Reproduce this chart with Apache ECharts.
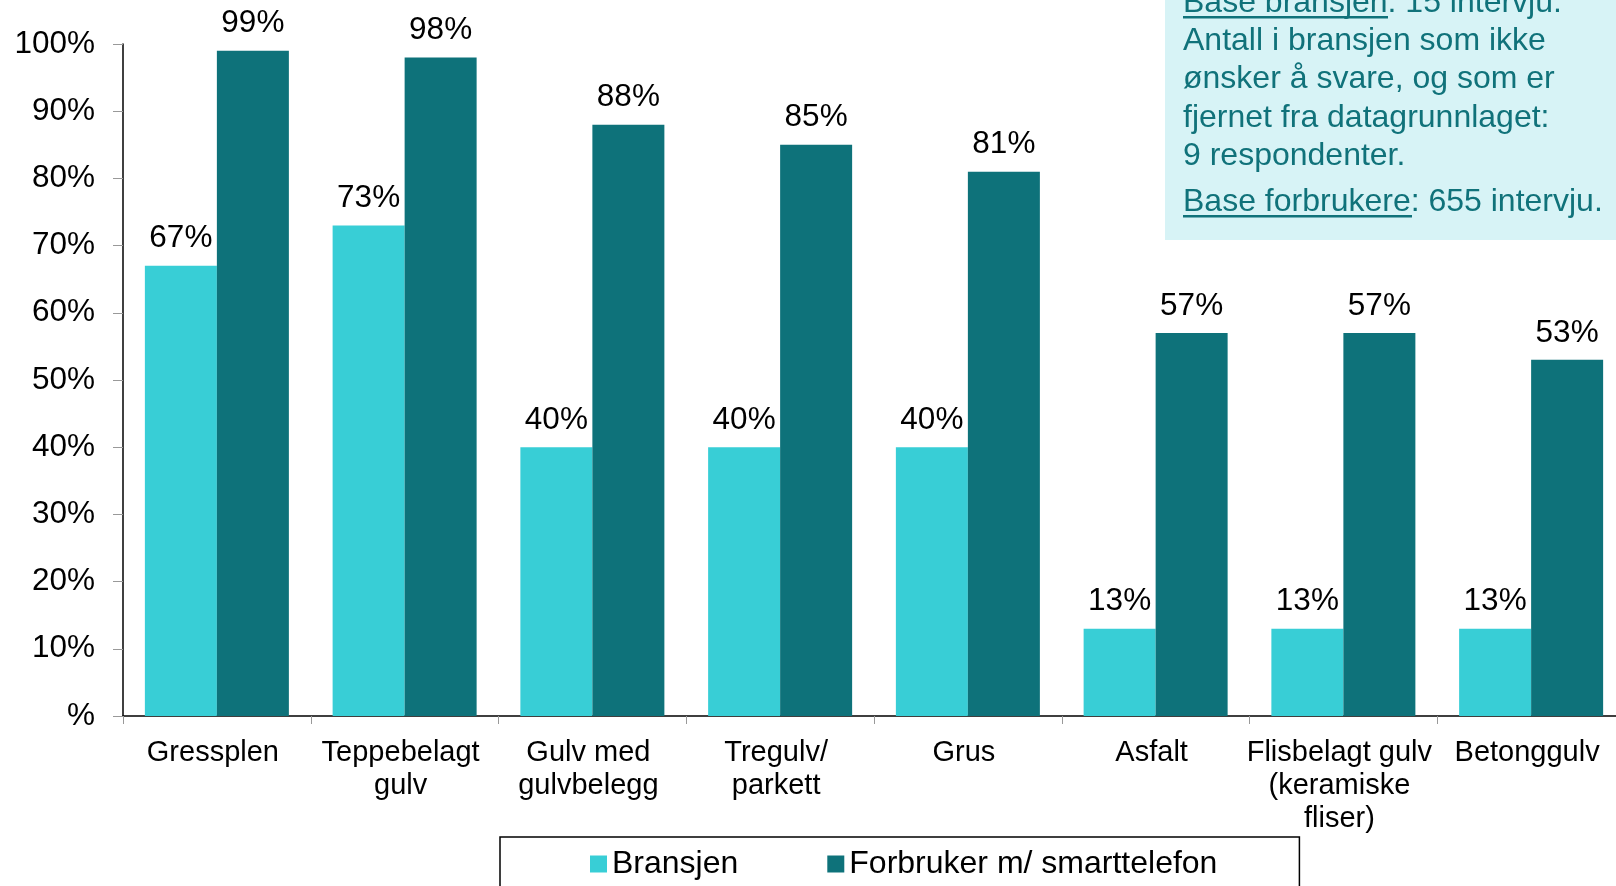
<!DOCTYPE html>
<html>
<head>
<meta charset="utf-8">
<style>
  html, body { margin: 0; padding: 0; background: #fff; }
  #chart { width: 1616px; height: 886px; }
</style>
<script src="https://cdn.jsdelivr.net/npm/echarts@6/dist/echarts.min.js"></script>
</head>
<body>
<div id="chart"></div>
<script>
// Floor types and share answering per group
const categories = [
  'Gressplen',
  'Teppebelagt\ngulv',
  'Gulv med\ngulvbelegg',
  'Tregulv/\nparkett',
  'Grus',
  'Asfalt',
  'Flisbelagt gulv\n(keramiske\nfliser)',
  'Betonggulv'
];
const bransjen = [67, 73, 40, 40, 40, 13, 13, 13];
const forbruker = [99, 98, 88, 85, 81, 57, 57, 53];
const seriesNames = ['Bransjen', 'Forbruker m/ smarttelefon'];

const FONT = '"Liberation Sans", Arial, sans-serif';
const LIGHT = '#38CED6';
const DARK = '#0E727A';
const NOTE_TEXT = '#10727A';

const chart = echarts.init(document.getElementById('chart'), null, { renderer: 'canvas' });

const valueLabel = {
  show: true,
  position: 'top',
  distance: 11,
  color: '#000',
  fontFamily: FONT,
  fontSize: 31.5,
  formatter: p => p.value + '%'
};

// Note box lines (text, baseline y)
const noteLines = [
  ['Base bransjen: 15 intervju.', 13],
  ['Antall i bransjen som ikke', 51],
  ['ønsker å svare, og som er', 89],
  ['fjernet fra datagrunnlaget:', 128],
  ['9 respondenter.', 166],
  ['Base forbrukere: 655 intervju.', 212]
];

const noteGraphics = [
  { type: 'rect', shape: { x: 1165, y: -10, width: 470, height: 250 }, style: { fill: '#D7F3F6' }, z: 10 }
].concat(noteLines.map(([t, base]) => ({
  type: 'text',
  x: 1183,
  y: base + 6,
  style: {
    text: t,
    fill: NOTE_TEXT,
    font: '32px ' + FONT,
    textAlign: 'left',
    textVerticalAlign: 'bottom'
  },
  z: 11
}))).concat([
  { type: 'rect', shape: { x: 1183, y: 16, width: 205, height: 2.5 }, style: { fill: NOTE_TEXT }, z: 11 },
  { type: 'rect', shape: { x: 1183, y: 215, width: 229, height: 2.5 }, style: { fill: NOTE_TEXT }, z: 11 }
]);

chart.setOption({
  animation: false,
  textStyle: { fontFamily: FONT },
  grid: {
    left: 123, width: 1502, top: 44, bottom: 170,
    containLabel: false,
    outerBoundsMode: 'none'
  },
  legend: {
    data: seriesNames,
    left: 500,
    top: 837,
    padding: [11, 82, 30, 90],
    itemGap: 89,
    itemWidth: 17,
    itemHeight: 17,
    icon: 'rect',
    borderColor: '#000',
    borderWidth: 1.5,
    textStyle: { color: '#000', fontSize: 32, fontFamily: FONT }
  },
  xAxis: {
    type: 'category',
    data: categories,
    axisLine: { lineStyle: { color: '#000', width: 1.5 } },
    axisTick: { show: true, length: 8, lineStyle: { color: '#999' } },
    axisLabel: {
      interval: 0,
      margin: 20,
      padding: [0, 8, 0, 0],
      color: '#000',
      fontSize: 29,
      lineHeight: 33,
      fontFamily: FONT
    }
  },
  yAxis: {
    type: 'value',
    min: 0,
    max: 100,
    interval: 10,
    axisLine: { show: true, lineStyle: { color: '#000', width: 1.5 } },
    axisTick: { show: true, length: 10, lineStyle: { color: '#999' } },
    splitLine: { show: false },
    axisLabel: {
      margin: 28,
      color: '#000',
      fontSize: 31.5,
      fontFamily: FONT,
      formatter: v => (v === 0 ? '%' : v + '%')
    }
  },
  series: [
    {
      name: seriesNames[0],
      type: 'bar',
      data: bransjen,
      barGap: '0%',
      barCategoryGap: '23.3%',
      itemStyle: { color: LIGHT },
      label: valueLabel
    },
    {
      name: seriesNames[1],
      type: 'bar',
      data: forbruker,
      barGap: '0%',
      barCategoryGap: '23.3%',
      itemStyle: { color: DARK },
      label: valueLabel
    }
  ],
  graphic: noteGraphics
});
</script>
</body>
</html>
